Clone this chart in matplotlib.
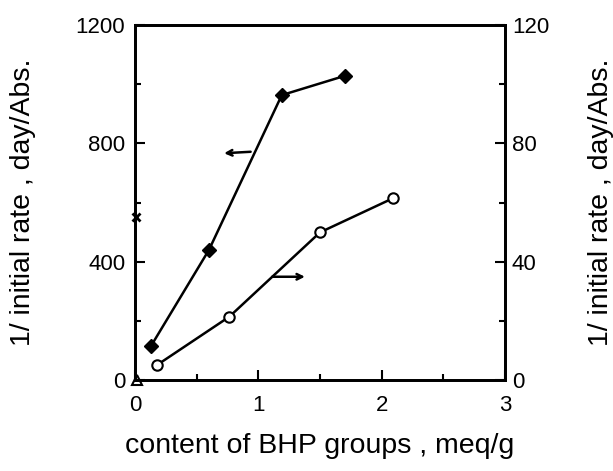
import matplotlib.pyplot as plt
from matplotlib.ticker import MultipleLocator

plt.rcParams['font.family'] = ['Liberation Sans', 'DejaVu Sans']

# 读取数据
bhp_left = [0.13, 0.60, 1.19, 1.70]
rate_left = [115, 440, 963, 1028]
bhp_right = [0.18, 0.765, 1.50, 2.09]
rate_right = [5.1, 21.4, 49.9, 61.4]
cross_pt = (0.01, 552)
tri_pt = (0.02, 0)

fig = plt.figure(figsize=(6.13, 4.71), dpi=100)
ax = fig.add_axes([135 / 613, 1 - 380 / 471, 370 / 613, 355 / 471])
ax2 = ax.twinx()

ax.plot(bhp_left, rate_left, '-', color='black', lw=1.8, marker='D', ms=7,
        mfc='black', mec='black')
ax2.plot(bhp_right, rate_right, '-', color='black', lw=1.8, marker='o', ms=7.5,
         mfc='white', mec='black', mew=1.5)
ax.plot(*cross_pt, marker='x', color='black', ms=6, mew=2, clip_on=False)
ax.plot(*tri_pt, marker='^', color='black', mfc='white', ms=7, mew=1.5,
        clip_on=False)

# 箭头
ax.annotate('', xy=(0.70, 766), xytext=(0.96, 772),
            arrowprops=dict(arrowstyle='->', color='black', lw=1.8))
ax.annotate('', xy=(1.40, 349), xytext=(1.09, 349),
            arrowprops=dict(arrowstyle='->', color='black', lw=1.8))

ax.set_xlim(0, 3)
ax.set_ylim(0, 1200)
ax2.set_ylim(0, 120)
ax.xaxis.set_major_locator(MultipleLocator(1))
ax.xaxis.set_minor_locator(MultipleLocator(0.5))
ax.yaxis.set_major_locator(MultipleLocator(400))
ax.yaxis.set_minor_locator(MultipleLocator(200))
ax2.yaxis.set_major_locator(MultipleLocator(40))
ax2.yaxis.set_minor_locator(MultipleLocator(20))

for a in (ax, ax2):
    for s in a.spines.values():
        s.set_linewidth(2)
    a.tick_params(which='both', direction='in', width=1.5, labelsize=16)
    a.tick_params(which='major', length=7)
    a.tick_params(which='minor', length=4)
ax.tick_params(axis='y', pad=7)
ax.tick_params(axis='x', top=False, pad=11)
ax2.tick_params(axis='y', pad=5)

ax.set_xlabel('content of BHP groups , meq/g', fontsize=20.5)
ax.set_ylabel('1/ initial rate , day/Abs.', fontsize=20.5)
ax2.set_ylabel('1/ initial rate , day/Abs.', fontsize=20.5)
for lab in (ax.xaxis.label, ax.yaxis.label, ax2.yaxis.label):
    lab.set_va('center')
    lab.set_ha('center')
ax.xaxis.set_label_coords(0.5, -0.186)
ax.yaxis.set_label_coords(-0.303, 0.5)
ax2.yaxis.set_label_coords(1.259, 0.5)

plt.savefig('out.png', dpi=100)
